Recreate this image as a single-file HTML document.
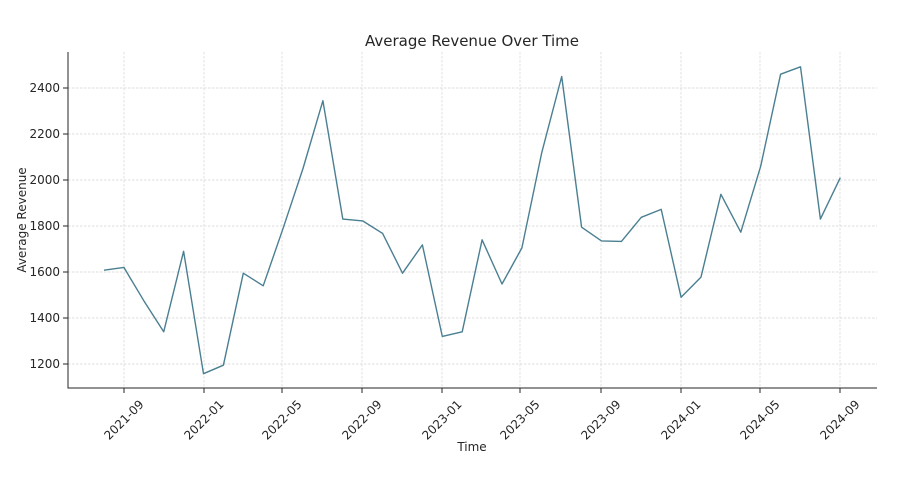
<!DOCTYPE html>
<html><head><meta charset="utf-8"><style>body{margin:0;background:#fff}svg{display:block}text{font-family:"DejaVu Sans","Liberation Sans",sans-serif;fill:#262626}</style></head><body>
<svg width="918" height="482" viewBox="0 0 918 482">
<g stroke="#d4d4d4" stroke-width="0.7" stroke-dasharray="2.5,1.5">
<line x1="68" x2="877" y1="364" y2="364"/><line x1="68" x2="877" y1="318" y2="318"/><line x1="68" x2="877" y1="272" y2="272"/><line x1="68" x2="877" y1="226" y2="226"/><line x1="68" x2="877" y1="180" y2="180"/><line x1="68" x2="877" y1="134" y2="134"/><line x1="68" x2="877" y1="88" y2="88"/>
<line y1="52" y2="388" x1="124" x2="124"/><line y1="52" y2="388" x1="204" x2="204"/><line y1="52" y2="388" x1="282" x2="282"/><line y1="52" y2="388" x1="362" x2="362"/><line y1="52" y2="388" x1="442" x2="442"/><line y1="52" y2="388" x1="520" x2="520"/><line y1="52" y2="388" x1="601" x2="601"/><line y1="52" y2="388" x1="681" x2="681"/><line y1="52" y2="388" x1="760" x2="760"/><line y1="52" y2="388" x1="840" x2="840"/>
</g>
<g stroke="#262626" stroke-width="1"><line x1="68" y1="52" x2="68" y2="388.5"/><line x1="67.5" y1="388" x2="877" y2="388"/></g>
<g stroke="#262626" stroke-width="1">
<line x1="63" x2="68" y1="364" y2="364"/><line x1="63" x2="68" y1="318" y2="318"/><line x1="63" x2="68" y1="272" y2="272"/><line x1="63" x2="68" y1="226" y2="226"/><line x1="63" x2="68" y1="180" y2="180"/><line x1="63" x2="68" y1="134" y2="134"/><line x1="63" x2="68" y1="88" y2="88"/>
<line y1="388" y2="393" x1="124" x2="124"/><line y1="388" y2="393" x1="204" x2="204"/><line y1="388" y2="393" x1="282" x2="282"/><line y1="388" y2="393" x1="362" x2="362"/><line y1="388" y2="393" x1="442" x2="442"/><line y1="388" y2="393" x1="520" x2="520"/><line y1="388" y2="393" x1="601" x2="601"/><line y1="388" y2="393" x1="681" x2="681"/><line y1="388" y2="393" x1="760" x2="760"/><line y1="388" y2="393" x1="840" x2="840"/>
</g>
<g font-size="12" text-anchor="end">
<text x="60" y="368">1200</text><text x="60" y="322">1400</text><text x="60" y="276">1600</text><text x="60" y="230">1800</text><text x="60" y="184">2000</text><text x="60" y="138">2200</text><text x="60" y="92">2400</text>
</g>
<g font-size="12" text-anchor="middle">
<text transform="translate(124,420) rotate(-45)" dy="4">2021-09</text>
<text transform="translate(204,420) rotate(-45)" dy="4">2022-01</text>
<text transform="translate(282,420) rotate(-45)" dy="4">2022-05</text>
<text transform="translate(362,420) rotate(-45)" dy="4">2022-09</text>
<text transform="translate(442,420) rotate(-45)" dy="4">2023-01</text>
<text transform="translate(520,420) rotate(-45)" dy="4">2023-05</text>
<text transform="translate(601,420) rotate(-45)" dy="4">2023-09</text>
<text transform="translate(681,420) rotate(-45)" dy="4">2024-01</text>
<text transform="translate(760,420) rotate(-45)" dy="4">2024-05</text>
<text transform="translate(840,420) rotate(-45)" dy="4">2024-09</text>
</g>
<text x="472" y="451" font-size="12" text-anchor="middle">Time</text>
<text transform="translate(26,220) rotate(-90)" font-size="12" text-anchor="middle">Average Revenue</text>
<text x="472" y="46" font-size="15" text-anchor="middle">Average Revenue Over Time</text>
<polyline fill="none" stroke="#4a7f91" stroke-width="1.4" stroke-linejoin="round" points="104,270.2 123.9,267.4 143.8,300.7 163.7,331.8 183.6,251.3 203.5,373.7 223.4,365.2 243.3,273.2 263.2,285.8 283.1,228.3 303,168.5 322.9,100.7 342.8,219.1 362.7,220.9 382.6,233.4 402.5,273.2 422.4,244.9 442.3,336.4 462.2,331.8 482.1,239.8 502,284 521.9,247.9 541.8,152.4 561.7,76.5 581.6,227.2 601.5,240.9 621.4,241.4 641.3,217.3 661.2,209.4 681.1,297.3 701,277.1 720.9,194.3 740.8,232.2 760.7,166.2 780.6,74.2 800.5,66.8 820.4,219.1 840.3,177.7"/>
</svg>
</body></html>
